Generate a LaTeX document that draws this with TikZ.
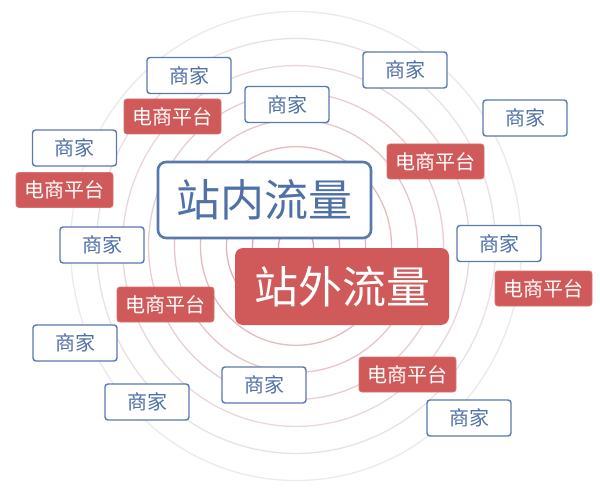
\documentclass[tikz,border=0pt]{standalone}
\usepackage{fontspec}
\newfontfamily\cjk{Noto Sans CJK SC}
\definecolor{bblue}{RGB}{88,120,176}
\definecolor{tblue}{RGB}{80,112,168}
\definecolor{rred}{RGB}{208,90,90}
\definecolor{cin}{RGB}{226,160,160}
\definecolor{cout}{RGB}{236,233,241}
\tikzset{
  shop/.style={draw=bblue, line width=1.4pt, fill=white, rounded corners=3pt,
    minimum width=84pt, minimum height=36pt, inner sep=0pt, text=tblue,
    font=\cjk\fontsize{20}{24}\selectfont},
  plat/.style={fill=rred, draw=rred!85!white, line width=0.8pt, rounded corners=3pt,
    minimum width=97pt, minimum height=35pt, inner sep=0pt, text=white,
    font=\cjk\fontsize{20}{24}\selectfont},
  bigin/.style={draw=bblue, line width=2.6pt, fill=white, rounded corners=8pt,
    minimum width=213pt, minimum height=76pt, inner sep=0pt, text=tblue,
    font=\cjk\fontsize{44}{50}\selectfont},
  bigout/.style={fill=rred, rounded corners=8pt,
    minimum width=214pt, minimum height=77pt, inner sep=0pt, text=white,
    font=\cjk\fontsize{44}{50}\selectfont},
}
\begin{document}
\begin{tikzpicture}[x=1pt,y=-1pt]
\useasboundingbox (0,0) rectangle (600,492);
\fill[white] (0,0) rectangle (600,492);
% concentric rings
\foreach \k in {0,...,8}{
  \pgfmathsetmacro{\rx}{17.5+26*\k}
  \pgfmathsetmacro{\ry}{1.04*\rx}
  \pgfmathsetmacro{\p}{100*\k/8}
  \draw[line width=1.3pt, color={cout!\p!cin}] (296,246) ellipse [x radius=\rx pt, y radius=\ry pt];
}
% big boxes
\node[bigin] (inner) at (264.5,200) {站内流量};
\node[bigout] (outer) at (342,286.5) {站外流量};
% merchants
\node[shop] (s1) at (189,75.5) {商家};
\node[shop] (s2) at (287,104.5) {商家};
\node[shop] (s3) at (405,70) {商家};
\node[shop] (s4) at (525,118) {商家};
\node[shop] (s5) at (74.5,148) {商家};
\node[shop] (s6) at (102,245) {商家};
\node[shop] (s7) at (499,243.5) {商家};
\node[shop] (s8) at (75,343) {商家};
\node[shop] (s9) at (147,402) {商家};
\node[shop] (s10) at (264,385) {商家};
\node[shop] (s11) at (469,418) {商家};
% platforms
\node[plat] (p1) at (172.5,116.5) {电商平台};
\node[plat] (p2) at (64.5,190) {电商平台};
\node[plat] (p3) at (435.5,161.5) {电商平台};
\node[plat] (p4) at (165.5,304.5) {电商平台};
\node[plat] (p5) at (543.5,288.5) {电商平台};
\node[plat] (p6) at (407.5,374.5) {电商平台};
\end{tikzpicture}
\end{document}
